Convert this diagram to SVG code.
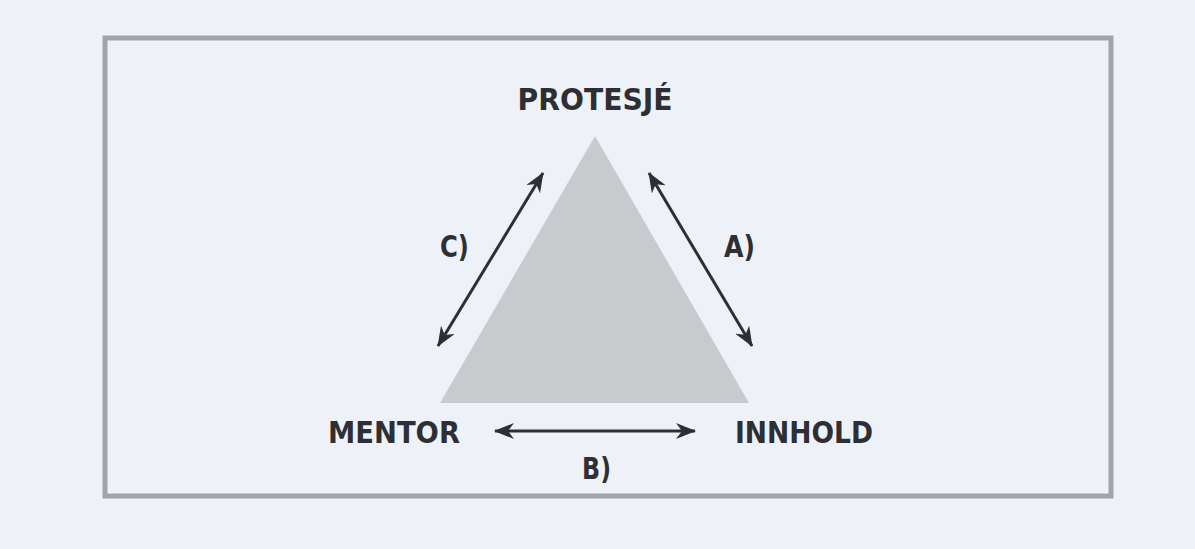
<svg xmlns="http://www.w3.org/2000/svg" width="1195" height="549" viewBox="0 0 1195 549">
<style>
.lbl{font-family:"DejaVu Sans Condensed","DejaVu Sans",sans-serif;font-weight:bold;font-size:30px;fill:#2e2f33}
.conn{stroke:#2e2f33;stroke-width:3;fill:none;marker-start:url(#ah);marker-end:url(#ah)}
</style>
<defs>
<marker id="ah" viewBox="0 0 20 16" refX="19" refY="8" markerWidth="20" markerHeight="16" orient="auto-start-reverse" markerUnits="userSpaceOnUse">
<path d="M0,0 L20,8 L0,16 L6,8 Z" fill="#2e2f33"/>
</marker>
</defs>
<rect x="0" y="0" width="1195" height="549" fill="#eef2f8"/>
<g id="frame">
<rect x="105" y="38" width="1006" height="458" fill="none" stroke="#a2a4ab" stroke-width="5"/>
</g>
<g id="triangle">
<polygon points="595,136 440,403 749,403" fill="#c9cacd"/>
</g>
<g id="protesje"><text class="lbl" x="595" y="110" text-anchor="middle" textLength="155" lengthAdjust="spacingAndGlyphs">PROTESJÉ</text></g>
<g id="mentor"><text class="lbl" x="328" y="443" textLength="132" lengthAdjust="spacingAndGlyphs">MENTOR</text></g>
<g id="innhold"><text class="lbl" x="735" y="443" textLength="138" lengthAdjust="spacingAndGlyphs">INNHOLD</text></g>
<g id="connectors">
<line class="conn" x1="543" y1="173" x2="438" y2="346"/>
<line class="conn" x1="649" y1="173" x2="752" y2="346"/>
<line class="conn" x1="495" y1="431" x2="695" y2="431"/>
</g>
<g id="labels">
<text class="lbl" x="440" y="257" textLength="29" lengthAdjust="spacingAndGlyphs">C)</text>
<text class="lbl" x="724" y="257" textLength="31" lengthAdjust="spacingAndGlyphs">A)</text>
<text class="lbl" x="582" y="479" textLength="29" lengthAdjust="spacingAndGlyphs">B)</text>
</g>
</svg>
